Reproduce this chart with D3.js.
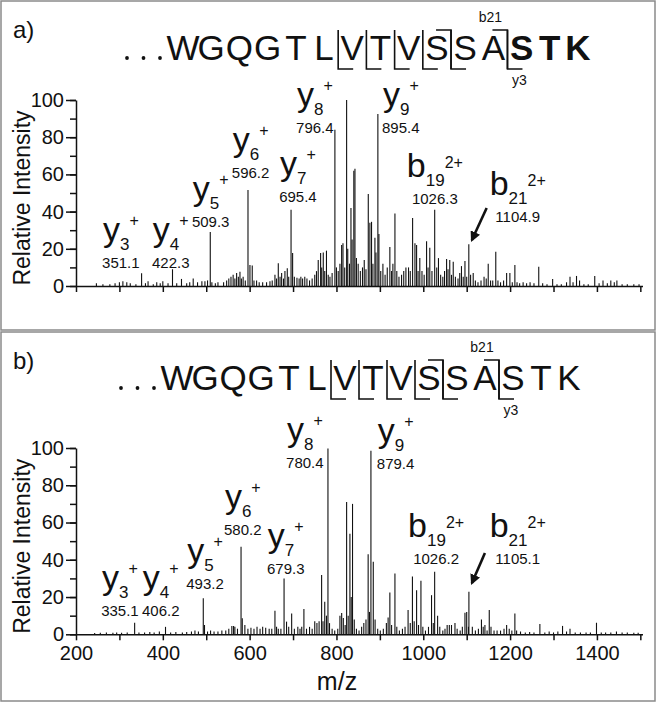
<!DOCTYPE html>
<html>
<head>
<meta charset="utf-8">
<script src="https://cdn.jsdelivr.net/npm/d3@7"></script>
<style>
  body { margin: 0; background: #fff; }
  text { font-family: "Liberation Sans", Arial, sans-serif; fill: #111; }
</style>
</head>
<body>
<div class="container"></div>
<script>
// sequence of the peptide (shared by both panels)
var residues = ['W','G','Q','G','T','L','V','T','V','S','S','A','S','T','K'];
// index of residue that starts a y fragment (bottom hook) / ends a b fragment (top hook)
var yCutsA = [6, 7, 8, 9, 10, 12];
var bCutsA = [9, 11];
var yCutsB = [6, 7, 8, 9, 10, 12];
var bCutsB = [9, 11];

// panel a) spectrum  [m/z, relative intensity]
var peaksA = [
  [247,1.5],[262,1],[278,1],[290,1.5],[300,2],[308,2.5],[317,2],[325,1.5],[338,1],[351.1,6.8],[360,1.5],
  [366,2.5],[378,1],[386,2],[394,1.5],[400,2.5],[412,1.5],[422.3,9],[432,1.5],[443,3.8],[455,1.5],
  [462,2],[470,4],[480,2],[490,2.5],[497,2.5],[503,3],[509.3,29],[513,2],[521,1.5],[527,2],[540,2],
  [547,3],[552,4],[557,5],[562,6],[566,4],[570,7],[574,5],[577.7,7.7],[581,4],[585,5],[590,3],
  [596.2,51.6],[600.7,11.3],[606,11],[610,3],[616,3],[622,2],[630,2],[639,2],[646.8,2.5],[652,3],
  [658.3,6],[662,4],[666,12.2],[670,5],[673.7,7],[678,4],[681.3,8],[686.7,9.5],[690,5],[695.4,41],
  [699,17.7],[703,5],[709,4.5],[714,4],[718,5],[722,4],[727,5],[732,4],[738,3],[744,4],[750,6],
  [754,8],[758,14],[763.5,17.7],[766,10],[769.6,18],[773,8],[777,19],[781,6],[785,5],[790,7],
  [796.4,84],[800,10],[804,8],[808,12],[811.9,22],[815,23],[819,10],[823.4,100],[826,20],[830,12],
  [833.4,42],[836,25],[840,62],[842.6,63],[846,15],[850,12],[855,8],[860,10],[864,14],[868,9],
  [873.3,49.5],[877,34],[880.8,34.5],[884,12],[888.6,26],[891,18],[895.4,92.5],[897.8,28],[902,8],
  [907,12],[912,6],[917,10],[923,21],[927,8],[930,12],[934.7,39],[939,8],[944,5],[950,6],[955,8],
  [960,10],[966,10],[970,8],[975.4,36.5],[980.8,23],[984.6,22],[988,8],[992,15],[997,8],[1002,6],
  [1007.6,24],[1011,10],[1015,20.5],[1020,8],[1026.3,41],[1031,10],[1035,15],[1040,6],[1045,5],
  [1049,8],[1053.7,14.5],[1057,9],[1061,14],[1065,6],[1069,13],[1074,5],[1080,4],[1084,7],
  [1088,10.7],[1092,5],[1096,13.4],[1100,5],[1104.9,22.4],[1109,6],[1115,7],[1120,3],[1126,2],
  [1133,3],[1140,5],[1145,4],[1149.6,12],[1155,3],[1160,3],[1167,18.4],[1172,3],[1178,2],[1185,3],
  [1192,7],[1199.5,7],[1205,2],[1211,11.3],[1216,2],[1222,1.5],[1230,2],[1238,1.5],[1246,2],
  [1255,1.5],[1266,10.4],[1275,1.5],[1285,1],[1298,3.8],[1308,1],[1318,1],[1330,2],[1338,5],
  [1345,2],[1353,5.4],[1360,3],[1370,1],[1380,1],[1395,5.4],[1405,1.5],[1414,3],[1424,1.5],
  [1432,3],[1440,2],[1446,3],[1458,1],[1470,1],[1485,1],[1497,1]
];

// panel b) spectrum  [m/z, relative intensity]
var peaksB = [
  [243,0.7],[256,0.8],[270,1],[285,0.8],[293.7,1],[305,0.8],[318,1],[335.1,6.2],[345,1],[358,1],
  [370,1.2],[380,1],[392,1.5],[406.2,4],[418,1],[430,1.2],[445,1],[455,1.2],[466,1.5],[474,2],
  [482,1.5],[493.2,19.3],[496,5],[503,1.5],[510,2],[518,1.5],[527,1.5],[536,2],[545,2],[552,3],
  [559,4.5],[563,4.5],[566,4],[572,3],[580.2,47],[583,8.6],[589,5],[596,3],[603,3.5],[610,3],
  [617,4],[624,3],[630,4],[637,3.5],[645,3],[651,3],[658.3,12.7],[662,4],[666,3],[672,3],
  [679.3,30],[685,6.8],[690,4],[696.8,11.2],[703,3],[711,4],[716,3],[720,4],[725,13.6],[731,3],
  [738,4],[744,3],[750,7],[755,6],[760,7],[765.8,31.8],[769,7],[773,17.5],[777,10],[780.4,99.7],
  [784,6],[790,3],[796,2],[803,3],[808,10],[812,11.4],[815.8,8.7],[820,5],[823.4,71],[827,10],
  [831,54],[834,20],[837,70],[841,8],[846,3],[852,2],[858,4],[863,6],[868,8],[873,43],[876,12],
  [879.4,98.5],[884.8,39],[889,8],[895,3],[901,2],[908,3],[915,6],[919,9],[923,22.5],[927,5],
  [934.7,32.7],[939,4],[945,2],[952,3],[958,4],[965,13],[970,6],[975,31],[979,7],[984.6,23.7],
  [989,5],[994.6,28.7],[999,4],[1005,2],[1012,4],[1019,21],[1023,6],[1026.2,33.6],[1033,10],
  [1038,4],[1045,2],[1050,3],[1055,5],[1060,5],[1065,5],[1073,6],[1078,3],[1085,2],[1090,4],
  [1096,11.6],[1100,12],[1104,4],[1105.1,22.8],[1113,4],[1120,2],[1127,3],[1134,8],[1138,4],
  [1142,5],[1147,2],[1152,13],[1156,4],[1163,2],[1170,2],[1178,2],[1186,3],[1192,5],[1198,3],
  [1204,2],[1211,11.2],[1215,2],[1224,1.5],[1235,1],[1245,1.2],[1255,1],[1268.6,5.5],[1280,1],
  [1290,1.5],[1300,1],[1310,1.5],[1320.8,4.5],[1330,1.5],[1338,3],[1350,1],[1362,1],[1375,1],
  [1385,1],[1399,6.2],[1410,1],[1420,1],[1432,1],[1445,1.5],[1458,1],[1470,1],[1485,0.8],[1495,0.8]
];

// fragment ion annotations: ion letter, subscript, charge, m/z text, label anchor (m/z, intensity)
var ionsA = [
  {ion:'y', sub:'3',  chg:'+',  mass:'351.1',  mz:262,  rel:24.2},
  {ion:'y', sub:'4',  chg:'+',  mass:'422.3',  mz:377,  rel:24.2},
  {ion:'y', sub:'5',  chg:'+',  mass:'509.3',  mz:469,  rel:46.2},
  {ion:'y', sub:'6',  chg:'+',  mass:'596.2',  mz:561,  rel:72.6},
  {ion:'y', sub:'7',  chg:'+',  mass:'695.4',  mz:670,  rel:59.7},
  {ion:'y', sub:'8',  chg:'+',  mass:'796.4',  mz:709,  rel:96.8},
  {ion:'y', sub:'9',  chg:'+',  mass:'895.4',  mz:907,  rel:96.8},
  {ion:'b', sub:'19', chg:'2+', mass:'1026.3', mz:962,  rel:58.6},
  {ion:'b', sub:'21', chg:'2+', mass:'1104.9', mz:1153, rel:48.9}
];
var ionsB = [
  {ion:'y', sub:'3',  chg:'+',  mass:'335.1',  mz:260,  rel:24.3},
  {ion:'y', sub:'4',  chg:'+',  mass:'406.2',  mz:354,  rel:24.3},
  {ion:'y', sub:'5',  chg:'+',  mass:'493.2',  mz:456,  rel:38.8},
  {ion:'y', sub:'6',  chg:'+',  mass:'580.2',  mz:543,  rel:67.7},
  {ion:'y', sub:'7',  chg:'+',  mass:'679.3',  mz:642,  rel:46.8},
  {ion:'y', sub:'8',  chg:'+',  mass:'780.4',  mz:686,  rel:103.6},
  {ion:'y', sub:'9',  chg:'+',  mass:'879.4',  mz:895,  rel:103.1},
  {ion:'b', sub:'19', chg:'2+', mass:'1026.2', mz:965,  rel:52.2},
  {ion:'b', sub:'21', chg:'2+', mass:'1105.1', mz:1153, rel:52.2}
];
// arrow pointing at b21 peak: [start m/z, start int, end m/z, end int]
var arrowA = [1146, 41.9, 1112, 24.7];
var arrowB = [1142, 43.6, 1112, 27.5];

var xTicks = [200, 400, 600, 800, 1000, 1200, 1400];
var yTicks = [0, 20, 40, 60, 80, 100];

var W = 658, H = 704;
var svg = d3.select('.container').append('svg').attr('width', W).attr('height', H);

var defs = svg.append('defs');
defs.append('marker').attr('id', 'ah')
  .attr('viewBox', '0 0 10 10').attr('refX', 8).attr('refY', 5)
  .attr('markerWidth', 4).attr('markerHeight', 4).attr('orient', 'auto')
  .append('path').attr('d', 'M0,0 L10,5 L0,10 z').attr('fill', '#111');

var x = d3.scaleLinear().domain([200, 1505]).range([76, 642.5]);

function drawPanel(top, h, letter, y, peaks, ions, arrow, yCuts, bCuts, boldFrom, seqBase, seqX0, seqX1, showX) {
  var g = svg.append('g');

  g.append('rect').attr('x', 1).attr('y', top).attr('width', 654).attr('height', h)
    .attr('fill', 'none').attr('stroke', '#8a8a8a').attr('stroke-width', 1.5);

  g.append('text').attr('x', 13).attr('y', top + 37).attr('font-size', 24).text(letter + ')');

  // sequence
  var sx = d3.scalePoint().domain(d3.range(residues.length)).range([seqX0, seqX1]);
  var step = sx.step();
  [0, 1, 2].forEach(function(i) {
    g.append('circle').attr('cx', seqX0 - 56 + i * 16.5).attr('cy', seqBase - 2).attr('r', 1.9).attr('fill', '#111');
  });
  g.selectAll('text.res').data(residues).enter().append('text')
    .attr('class', 'res')
    .attr('x', function(d, i) { return sx(i); })
    .attr('y', seqBase)
    .attr('text-anchor', 'middle')
    .attr('font-size', 35)
    .attr('font-weight', function(d, i) { return i >= boldFrom ? 'bold' : 'normal'; })
    .text(function(d) { return d; });

  var capTop = seqBase - 30, below = seqBase + 9, hook = 15;
  yCuts.forEach(function(i) {
    var bx = sx(i) - step / 2;
    g.append('path').attr('d', 'M' + bx + ',' + capTop + 'V' + below + 'H' + (bx + hook))
      .attr('fill', 'none').attr('stroke', '#111').attr('stroke-width', 1.6);
  });
  bCuts.forEach(function(i) {
    var bx = sx(i) + step / 2;
    g.append('path').attr('d', 'M' + (bx - hook) + ',' + capTop + 'H' + bx + 'V' + below)
      .attr('fill', 'none').attr('stroke', '#111').attr('stroke-width', 1.6);
  });
  var cut = sx(12) - step / 2;
  g.append('text').attr('x', cut - 17).attr('y', seqBase - 38).attr('text-anchor', 'middle')
    .attr('font-size', 14).text('b21');
  g.append('text').attr('x', cut + 12).attr('y', seqBase + 25).attr('text-anchor', 'middle')
    .attr('font-size', 14).text('y3');

  // spectrum
  g.selectAll('line.pk').data(peaks).enter().append('line')
    .attr('class', 'pk')
    .attr('x1', function(d) { return x(d[0]); })
    .attr('x2', function(d) { return x(d[0]); })
    .attr('y1', y(0))
    .attr('y2', function(d) { return y(d[1]); })
    .attr('stroke', '#111').attr('stroke-width', 1.1);

  // axes
  var ax = g.append('g').attr('transform', 'translate(0,' + y(0) + ')')
    .call(d3.axisBottom(x).tickValues(d3.range(200, 1501, 100)).tickSize(6).tickSizeOuter(0)
      .tickPadding(6)
      .tickFormat(function(d) { return showX && xTicks.indexOf(d) >= 0 ? d : ''; }));
  ax.selectAll('text').attr('font-size', 20).attr('fill', '#111').style('font-family', '"Liberation Sans", Arial, sans-serif');
  ax.selectAll('line,path').attr('stroke', '#111').attr('stroke-width', 1.5);

  var ayMinor = g.append('g').attr('transform', 'translate(76,0)')
    .call(d3.axisLeft(y).tickValues(d3.range(0, 101, 10)).tickSize(6).tickSizeOuter(0).tickFormat(''));
  ayMinor.selectAll('line,path').attr('stroke', '#111').attr('stroke-width', 1.5);
  var ay = g.append('g').attr('transform', 'translate(76,0)')
    .call(d3.axisLeft(y).tickValues(yTicks).tickSize(10).tickSizeOuter(0).tickPadding(2));
  ay.select('.domain').remove();
  ay.selectAll('line').attr('stroke', '#111').attr('stroke-width', 1.5);
  ay.selectAll('text').attr('font-size', 20).attr('fill', '#111').style('font-family', '"Liberation Sans", Arial, sans-serif');

  g.append('text')
    .attr('transform', 'translate(30,' + (y(0) - 88) + ') rotate(-90)')
    .attr('text-anchor', 'middle').attr('font-size', 23).text('Relative Intensity');

  // ion labels
  ions.forEach(function(d) {
    var lx = x(d.mz), ly = y(d.rel);
    var t = g.append('text').attr('x', lx).attr('y', ly);
    t.append('tspan').attr('font-size', 34).text(d.ion);
    t.append('tspan').attr('font-size', 17).attr('dy', 9).text(d.sub);
    t.append('tspan').attr('font-size', 16).attr('dy', d.ion === 'b' ? -18 : -24).text(d.chg);
    var w = t.node().getComputedTextLength();
    g.append('text').attr('x', lx + w / 2).attr('y', ly + 27)
      .attr('text-anchor', 'middle').attr('font-size', 15).text(d.mass);
  });

  g.append('line')
    .attr('x1', x(arrow[0])).attr('y1', y(arrow[1]))
    .attr('x2', x(arrow[2])).attr('y2', y(arrow[3]))
    .attr('stroke', '#111').attr('stroke-width', 2.6).attr('marker-end', 'url(#ah)');

  if (showX) {
    g.append('text').attr('x', 337).attr('y', 690).attr('text-anchor', 'middle')
      .attr('font-size', 25).text('m/z');
  }
}

var yA = d3.scaleLinear().domain([0, 100]).range([286, 100]);
var yB = d3.scaleLinear().domain([0, 100]).range([634.3, 448]);

drawPanel(1, 329, 'a', yA, peaksA, ionsA, arrowA, yCutsA, bCutsA, 12, 60, 183, 578, false);
drawPanel(332, 369, 'b', yB, peaksB, ionsB, arrowB, yCutsB, bCutsB, 99, 390, 177, 569, true);
</script>
</body>
</html>
